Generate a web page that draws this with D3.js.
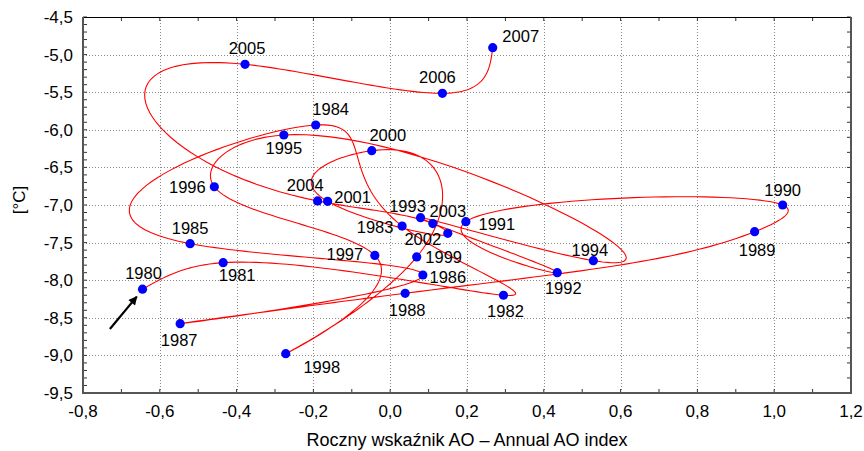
<!DOCTYPE html>
<html>
<head>
<meta charset="utf-8">
<script src="https://cdn.jsdelivr.net/npm/d3@7"></script>
<style>
  body { margin: 0; background: #fff; }
  text { font-family: "Liberation Sans", Arial, sans-serif; fill: #000; }
</style>
</head>
<body>
<div id="chart"></div>
<script>

// data
var years = [1980, 1981, 1982, 1983, 1984, 1985, 1986, 1987, 1988, 1989,
             1990, 1991, 1992, 1993, 1994, 1995, 1996, 1997, 1998, 1999,
             2000, 2001, 2002, 2003, 2004, 2005, 2006, 2007];
var aoIndex = [-0.645, -0.435, 0.295, 0.031, -0.194, -0.521, 0.085, -0.547, 0.039, 0.949,
               1.022, 0.197, 0.435, 0.079, 0.529, -0.277, -0.458, -0.040, -0.272, 0.069,
               -0.048, -0.163, 0.150, 0.111, -0.189, -0.378, 0.136, 0.267];
var tempC = [-8.12, -7.767, -8.20, -7.28, -5.936, -7.514, -7.931, -8.578, -8.174, -7.355,
             -7.00, -7.222, -7.90, -7.169, -7.74, -6.069, -6.757, -7.67, -8.977, -7.691,
             -6.278, -6.951, -7.376, -7.247, -6.946, -5.129, -5.515, -4.908];
var xTicks = [-0.8, -0.6, -0.4, -0.2, 0.0, 0.2, 0.4, 0.6, 0.8, 1.0, 1.2];
var yTicks = [-9.5, -9.0, -8.5, -8.0, -7.5, -7.0, -6.5, -6.0, -5.5, -5.0, -4.5];

// where each year label sits relative to its dot (px)
var labelOffsets = {
  1980: [1, -16], 1981: [14, 12], 1982: [2, 16], 1983: [-27, 1], 1984: [15, -15.5],
  1985: [0, -16], 1986: [25, 1.5], 1987: [-1, 16], 1988: [2, 16.5], 1989: [2.5, 18],
  1990: [0, -15], 1991: [31, 2], 1992: [6, 15.5], 1993: [-13, -12], 1994: [-3.5, -11],
  1995: [0, 13], 1996: [-27, 0], 1997: [-30, -1], 1998: [36, 13], 1999: [27, 0],
  2000: [16, -15.7], 2001: [25, -4.5], 2002: [-25, 5.5], 2003: [15, -13], 2004: [-12.4, -16],
  2005: [2, -16.3], 2006: [-5, -16], 2007: [28, -11.7]
};

var data = years.map(function(y, i) { return {year: y, ao: aoIndex[i], t: tempC[i]}; });

var margin = {top: 17, right: 13, bottom: 58, left: 83};
var width = 864 - margin.left - margin.right;
var height = 451 - margin.top - margin.bottom;

var locale = d3.formatLocale({decimal: ",", thousands: " ", grouping: [3], currency: ["", ""], minus: "-"});
var fmt = locale.format(".1f");

var svg = d3.select("#chart").append("svg")
    .attr("width", 864)
    .attr("height", 451);

var chart = svg.append("g")
    .attr("transform", "translate(" + margin.left + "," + margin.top + ")");

var x = d3.scaleLinear().domain([-0.8, 1.2]).range([0, width]);
var y = d3.scaleLinear().domain([-9.5, -4.5]).range([height, 0]);

// grid
chart.append("g").selectAll("line")
  .data(xTicks.slice(1, -1))
  .enter().append("line")
    .attr("x1", function(d) { return Math.round(x(d)) + 0.5; })
    .attr("x2", function(d) { return Math.round(x(d)) + 0.5; })
    .attr("y1", 0).attr("y2", height)
    .attr("stroke", "#8a8a8a")
    .attr("stroke-dasharray", "1,2");

chart.append("g").selectAll("line")
  .data(yTicks.slice(1, -1))
  .enter().append("line")
    .attr("y1", function(d) { return Math.round(y(d)) + 0.5; })
    .attr("y2", function(d) { return Math.round(y(d)) + 0.5; })
    .attr("x1", 0).attr("x2", width)
    .attr("stroke", "#8a8a8a")
    .attr("stroke-dasharray", "1,2");

// inside ticks on all sides
var xMinor = d3.range(-0.8, 1.2001, 0.1);
var yMinorL = d3.range(-9.5, -4.4999, 0.1);
var yMinorR = d3.range(-9.5, -4.4999, 0.2);

chart.append("g").selectAll("line")
  .data(xMinor).enter().append("line")
    .attr("x1", function(d) { return x(d); }).attr("x2", function(d) { return x(d); })
    .attr("y1", height).attr("y2", height - 4)
    .attr("stroke", "#333");
chart.append("g").selectAll("line")
  .data(xMinor).enter().append("line")
    .attr("x1", function(d) { return x(d); }).attr("x2", function(d) { return x(d); })
    .attr("y1", 0).attr("y2", 4)
    .attr("stroke", "#333");
chart.append("g").selectAll("line")
  .data(yMinorL).enter().append("line")
    .attr("y1", function(d) { return y(d); }).attr("y2", function(d) { return y(d); })
    .attr("x1", 0).attr("x2", 4)
    .attr("stroke", "#333");
chart.append("g").selectAll("line")
  .data(yMinorR).enter().append("line")
    .attr("y1", function(d) { return y(d); }).attr("y2", function(d) { return y(d); })
    .attr("x1", width).attr("x2", width - 4)
    .attr("stroke", "#333");

// frame
chart.append("line").attr("x1", 0).attr("x2", width).attr("y1", 0.5).attr("y2", 0.5)
  .attr("stroke", "#000").attr("stroke-width", 1.2);
chart.append("line").attr("x1", 0).attr("x2", 0).attr("y1", 0).attr("y2", height + 1)
  .attr("stroke", "#555").attr("stroke-width", 2);
chart.append("line").attr("x1", width).attr("x2", width).attr("y1", 0).attr("y2", height + 1)
  .attr("stroke", "#555").attr("stroke-width", 2);
chart.append("line").attr("x1", -1).attr("x2", width + 1).attr("y1", height).attr("y2", height)
  .attr("stroke", "#555").attr("stroke-width", 2);

// tick labels
chart.append("g").selectAll("text")
  .data(xTicks).enter().append("text")
    .attr("x", function(d) { return x(d); })
    .attr("y", height + 24)
    .style("text-anchor", "middle")
    .style("font-size", "17px")
    .text(function(d) { return fmt(d); });

chart.append("g").selectAll("text")
  .data(yTicks).enter().append("text")
    .attr("x", -10)
    .attr("y", function(d) { return y(d) + 6; })
    .style("text-anchor", "end")
    .style("font-size", "17px")
    .text(function(d) { return fmt(d); });

// axis titles
svg.append("text")
    .attr("x", margin.left + width / 2)
    .attr("y", 446)
    .style("text-anchor", "middle")
    .style("font-size", "18px")
    .text("Roczny wskaźnik AO – Annual AO index");

svg.append("text")
    .attr("transform", "translate(25," + (margin.top + height / 2 - 5) + ")rotate(-90)")
    .style("text-anchor", "middle")
    .style("font-size", "17px")
    .text("[°C]");

// natural cubic spline, parameterised by chord length in data units
function naturalSpline(t, v) {
  var n = v.length, M = new Array(n).fill(0);
  var a = [], b = [], c = [], r = [];
  for (var i = 1; i < n - 1; i++) {
    var h0 = t[i] - t[i - 1], h1 = t[i + 1] - t[i];
    a.push(h0); b.push(2 * (h0 + h1)); c.push(h1);
    r.push(6 * ((v[i + 1] - v[i]) / h1 - (v[i] - v[i - 1]) / h0));
  }
  var m = b.length;
  for (var i = 1; i < m; i++) {
    var w = a[i] / b[i - 1];
    b[i] -= w * c[i - 1];
    r[i] -= w * r[i - 1];
  }
  var s = new Array(m);
  s[m - 1] = r[m - 1] / b[m - 1];
  for (var i = m - 2; i >= 0; i--) s[i] = (r[i] - c[i] * s[i + 1]) / b[i];
  for (var i = 0; i < m; i++) M[i + 1] = s[i];
  return function(i, tt) {
    var h = t[i + 1] - t[i], A = t[i + 1] - tt, B = tt - t[i];
    return M[i] * A * A * A / (6 * h) + M[i + 1] * B * B * B / (6 * h)
      + (v[i] / h - M[i] * h / 6) * A + (v[i + 1] / h - M[i + 1] * h / 6) * B;
  };
}

var knots = [0];
for (var i = 1; i < data.length; i++) {
  knots.push(knots[i - 1] + Math.hypot(aoIndex[i] - aoIndex[i - 1], tempC[i] - tempC[i - 1]));
}
var sx = naturalSpline(knots, aoIndex);
var sy = naturalSpline(knots, tempC);
var curvePts = [];
for (var i = 0; i < data.length - 1; i++) {
  for (var k = 0; k <= 40; k++) {
    var tt = knots[i] + (knots[i + 1] - knots[i]) * k / 40;
    curvePts.push({ao: sx(i, tt), t: sy(i, tt)});
  }
}

var line = d3.line()
    .x(function(d) { return x(d.ao); })
    .y(function(d) { return y(d.t); });

chart.append("path")
    .datum(curvePts)
    .attr("d", line)
    .attr("fill", "none")
    .attr("stroke", "#ff0000")
    .attr("stroke-width", 1.1);

// dots
chart.append("g").selectAll("circle")
  .data(data).enter().append("circle")
    .attr("cx", function(d) { return x(d.ao); })
    .attr("cy", function(d) { return y(d.t); })
    .attr("r", 4.6)
    .attr("fill", "#0000ff");

// year labels
chart.append("g").selectAll("text")
  .data(data).enter().append("text")
    .attr("x", function(d) { return x(d.ao) + labelOffsets[d.year][0]; })
    .attr("y", function(d) { return y(d.t) + labelOffsets[d.year][1] + 6; })
    .style("text-anchor", "middle")
    .style("font-size", "16.5px")
    .text(function(d) { return d.year; });

// arrow pointing at 1980
svg.append("defs").append("marker")
    .attr("id", "head")
    .attr("viewBox", "0 0 10 10")
    .attr("refX", 9).attr("refY", 5)
    .attr("markerWidth", 5).attr("markerHeight", 4)
    .attr("orient", "auto")
  .append("path")
    .attr("d", "M0,0L10,5L0,10z")
    .attr("fill", "#000");

chart.append("line")
    .attr("x1", x(-0.730)).attr("y1", y(-8.649))
    .attr("x2", x(-0.660)).attr("y2", y(-8.219))
    .attr("stroke", "#000")
    .attr("stroke-width", 2.2)
    .attr("marker-end", "url(#head)");

</script>
</body>
</html>
